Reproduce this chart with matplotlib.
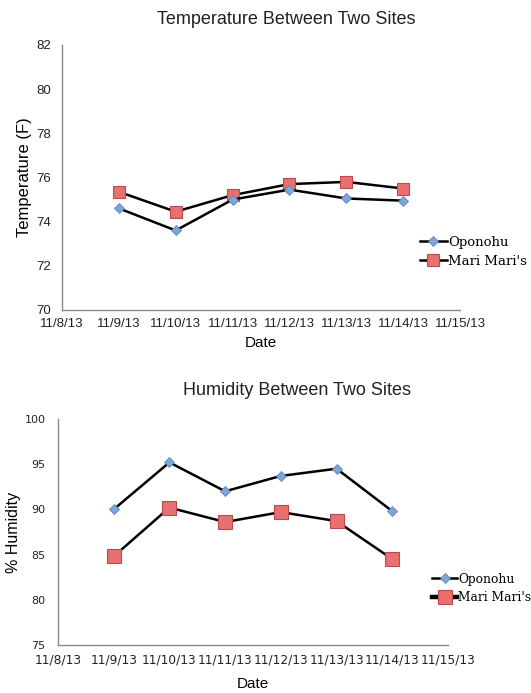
import numpy as np
import pandas as pd
import matplotlib
matplotlib.use("Agg")
import matplotlib.pyplot as plt

# data
dates = ["2013-11-09", "2013-11-10", "2013-11-11", "2013-11-12", "2013-11-13", "2013-11-14"]
tick_labels = ["11/8/13", "11/9/13", "11/10/13", "11/11/13", "11/12/13",
               "11/13/13", "11/14/13", "11/15/13"]
temp_oponohu = [74.6, 73.6, 75.0, 75.45, 75.05, 74.95]
temp_marimari = [75.35, 74.45, 75.2, 75.7, 75.8, 75.5]
hum_oponohu = [90.0, 95.2, 92.0, 93.7, 94.5, 89.8]
hum_marimari = [84.8, 90.2, 88.6, 89.7, 88.7, 84.5]
series_names = ["Oponohu", "Mari Mari's"]

x = pd.to_datetime(dates)
ticks = pd.date_range("2013-11-08", "2013-11-15", freq="D")

BLUE = "#7fa6d8"
BLUE_E = "#5b84bd"
RED = "#e87070"
RED_E = "#c04848"
GRAY = "#8a8a8a"

fig = plt.figure(figsize=(5.31, 6.93), dpi=100)


def style_axes(ax, ylim, yticks, tick_font, xsize, ysize, ypad, xpad):
    ax.set_xlim(ticks[0], ticks[-1])
    ax.set_ylim(*ylim)
    ax.set_yticks(yticks)
    ax.set_xticks(ticks)
    ax.set_xticklabels(tick_labels, fontsize=xsize, family=tick_font, color="#222222")
    for lab in ax.get_yticklabels():
        lab.set_fontsize(ysize)
        lab.set_family(tick_font)
        lab.set_color("#222222")
    ax.tick_params(length=0)
    ax.tick_params(axis="y", pad=ypad)
    ax.tick_params(axis="x", pad=xpad)
    for s in ["top", "right"]:
        ax.spines[s].set_visible(False)
    for s in ["left", "bottom"]:
        ax.spines[s].set_color(GRAY)
        ax.spines[s].set_linewidth(1.0)


def draw(ax, a, b, sq, dm, legend_xy, lw_second, leg_size):
    ax.plot(x, b, color="black", lw=1.8, marker="s", ms=sq,
            mfc=RED, mec=RED_E, mew=0.8, label=series_names[1], zorder=2)
    ax.plot(x, a, color="black", lw=1.8, marker="D", ms=dm,
            mfc=BLUE, mec=BLUE_E, mew=0.6, label=series_names[0], zorder=3)
    h, l = ax.get_legend_handles_labels()
    leg = ax.legend(h[::-1], l[::-1], loc="center left", bbox_to_anchor=legend_xy,
                    frameon=False, handlelength=2.0, handletextpad=0.1,
                    borderpad=0, borderaxespad=0,
                    labelspacing=0.45, prop={"family": "DejaVu Serif", "size": leg_size})
    leg.get_lines()[1].set_linewidth(lw_second)


# top: temperature
ax1 = fig.add_axes([0.1168, 0.5527, 0.7495, 0.3824])
draw(ax1, temp_oponohu, temp_marimari, 8, 5, (0.90, 0.22), 1.8, 9.5)
style_axes(ax1, (70, 82), np.arange(70, 83, 2), "Liberation Sans", 9.5, 9.5, 8, 6)
ax1.set_ylabel("Temperature (F)", fontsize=12, family="Liberation Sans")
ax1.yaxis.set_label_coords(-0.076, 0.5)
ax1.set_xlabel("Date", fontsize=11, family="Liberation Sans", labelpad=4)
fig.text(0.539, 0.972, "Temperature Between Two Sites", ha="center", va="center",
         fontsize=13, family="Liberation Sans", color="#222222")

# bottom: humidity
ax2 = fig.add_axes([0.1092, 0.0693, 0.7345, 0.3261])
draw(ax2, hum_oponohu, hum_marimari, 9.5, 5.5, (0.96, 0.25), 3.2, 8.8)
style_axes(ax2, (75, 100), np.arange(75, 101, 5), "DejaVu Sans", 8.8, 8, 9, 6)
ax2.set_ylabel("% Humidity", fontsize=11.5, family="Liberation Sans")
ax2.yaxis.set_label_coords(-0.095, 0.5)
ax2.set_xlabel("Date", fontsize=11, family="Liberation Sans", labelpad=8)
fig.text(0.56, 0.437, "Humidity Between Two Sites", ha="center", va="center",
         fontsize=13, family="Liberation Sans", color="#222222")

fig.savefig("out.png", dpi=100)
